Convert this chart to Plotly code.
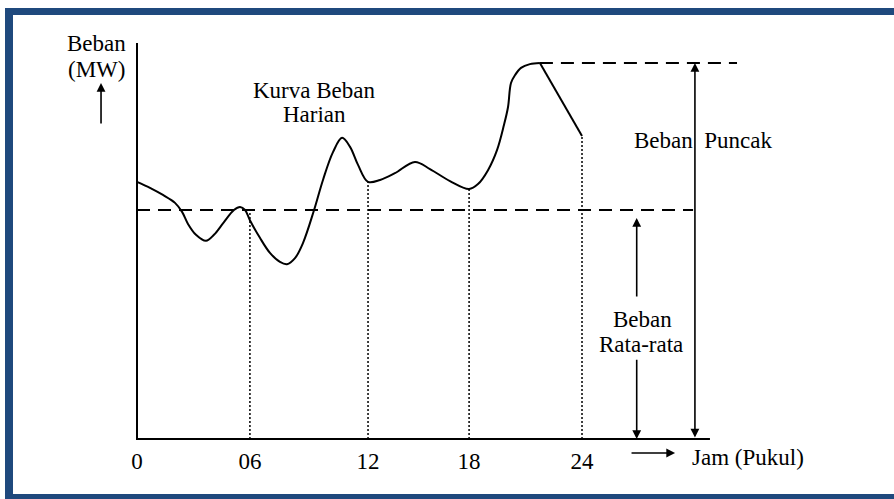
import numpy as np
import plotly.graph_objects as go

# ---- data (hours vs load, arbitrary MW units; peak = 100) ----
hours = [0, 0.70, 1.40, 2.05, 2.43, 2.75, 3.18, 3.72, 4.15, 4.69, 5.23, 5.56, 5.83,
         6.09, 6.63, 7.17, 7.71, 8.09, 8.52, 8.95, 9.55, 10.03, 10.57, 11.06, 11.49,
         11.92, 12.46, 13.11, 13.91, 14.99, 15.80, 16.88, 17.91, 18.39, 18.93, 19.42,
         19.79, 20.01, 20.17, 20.39, 20.71, 21.19, 21.73]
load = [68.4, 66.8, 64.9, 62.8, 60.4, 57.2, 54.3, 52.7, 54.3, 57.7, 60.9, 61.7, 60.9,
        58.2, 53.5, 49.5, 47.1, 46.5, 48.1, 52.1, 60.9, 68.9, 76.3, 80.1, 77.7,
        72.9, 68.4, 68.9, 70.7, 73.7, 71.8, 68.6, 66.5, 67.8, 71.5, 76.9,
        83.5, 88.3, 94.7, 96.8, 98.7, 99.7, 100.0]
tail_hours = [21.73, 24.0]
tail_load = [100.0, 80.6]

peak_load = 100.0
avg_load = 60.9

tick_pos = [0, 6.09, 12.46, 17.91, 24]
tick_text = ["0", "06", "12", "18", "24"]

all_h = hours + tail_hours[1:]
all_l = load + tail_load[1:]

FONT = dict(family="Liberation Serif, Times New Roman, serif", size=23, color="black")

fig = go.Figure()

# daily load curve
fig.add_trace(go.Scatter(x=hours, y=load, mode="lines",
                         line=dict(color="black", width=2, shape="spline", smoothing=1.0),
                         hoverinfo="skip", showlegend=False))
fig.add_trace(go.Scatter(x=tail_hours, y=tail_load, mode="lines",
                         line=dict(color="black", width=2),
                         hoverinfo="skip", showlegend=False))

# dotted verticals at the hour marks
for i, t in enumerate(tick_pos[1:]):
    top = avg_load if i == 0 else float(np.interp(t, all_h, all_l))
    fig.add_trace(go.Scatter(x=[t, t], y=[0, top], mode="lines",
                             line=dict(color="black", width=1.5, dash="2px,2px"),
                             hoverinfo="skip", showlegend=False))

# dashed reference lines
fig.add_trace(go.Scatter(x=[0, 29.99], y=[avg_load, avg_load], mode="lines",
                         line=dict(color="black", width=2, dash="13px,8px"),
                         hoverinfo="skip", showlegend=False))
fig.add_trace(go.Scatter(x=[21.73, 32.36], y=[peak_load, peak_load], mode="lines",
                         line=dict(color="black", width=2, dash="13px,8px"),
                         hoverinfo="skip", showlegend=False))

# axes lines
fig.add_trace(go.Scatter(x=[0, 0, 30.9], y=[105.3, 0, 0], mode="lines",
                         line=dict(color="black", width=2),
                         hoverinfo="skip", showlegend=False))

def arrow(xh, yh, xt, yt, both=False):
    fig.add_annotation(x=xh, y=yh, ax=xt, ay=yt, xref="x", yref="y", axref="x", ayref="y",
                       text="", showarrow=True, arrowhead=2, arrowsize=1.1, arrowwidth=1.6,
                       arrowcolor="black", arrowside="end+start" if both else "end")

arrow(-1.94, 94.7, -1.94, 83.5)                 # y-axis label arrow
arrow(30.09, peak_load, 30.09, 0, both=True)     # Beban Puncak
arrow(26.95, 58.8, 26.95, 37.5)                  # Rata-rata up
arrow(26.95, 0, 26.95, 21.5)                     # Rata-rata down
arrow(29.02, -3.72, 26.59, -3.72)                # x-axis label arrow

def label(x, y, t):
    fig.add_annotation(x=x, y=y, xref="x", yref="y", text=t, showarrow=False, font=FONT)

label(-2.21, 105.3, "Beban")
label(-2.21, 98.4, "(MW)")
label(9.55, 92.6, "Kurva Beban")
label(9.55, 86.2, "Harian")
label(30.53, 79.3, "Beban&nbsp; Puncak")
label(27.24, 31.9, "Beban")
label(27.18, 25.1, "Rata-rata")
label(32.95, -4.8, "Jam (Pukul)")

# blue frame
BLUE = "rgb(31,73,125)"
for x0, x1, y0, y1 in [(5, 13, 8, 499), (5, 894, 8, 15), (5, 894, 494, 499)]:
    fig.add_shape(type="rect", xref="paper", yref="paper",
                  x0=x0 / 894, x1=x1 / 894, y0=1 - y1 / 499, y1=1 - y0 / 499,
                  fillcolor=BLUE, line=dict(width=0), layer="above")

fig.update_layout(
    width=894, height=499,
    margin=dict(l=0, r=0, t=0, b=0),
    paper_bgcolor="white", plot_bgcolor="white",
    template="none",
    showlegend=False,
    xaxis=dict(range=[-137 / 18.542, (894 - 137) / 18.542], domain=[0, 1],
               anchor="free", position=(499 - 439) / 499,
               showgrid=False, zeroline=False, showline=False,
               tickmode="array", tickvals=tick_pos, ticktext=tick_text,
               ticks="", ticklabelstandoff=6, tickfont=FONT, automargin=False,
               fixedrange=True),
    yaxis=dict(range=[(439 - 499) / 3.76, 439 / 3.76], domain=[0, 1],
               visible=False, showgrid=False, zeroline=False, automargin=False,
               fixedrange=True),
)

fig.write_html("out.html", config={"displayModeBar": False},
               post_script="document.body.style.margin='0';document.body.style.overflow='hidden';")
